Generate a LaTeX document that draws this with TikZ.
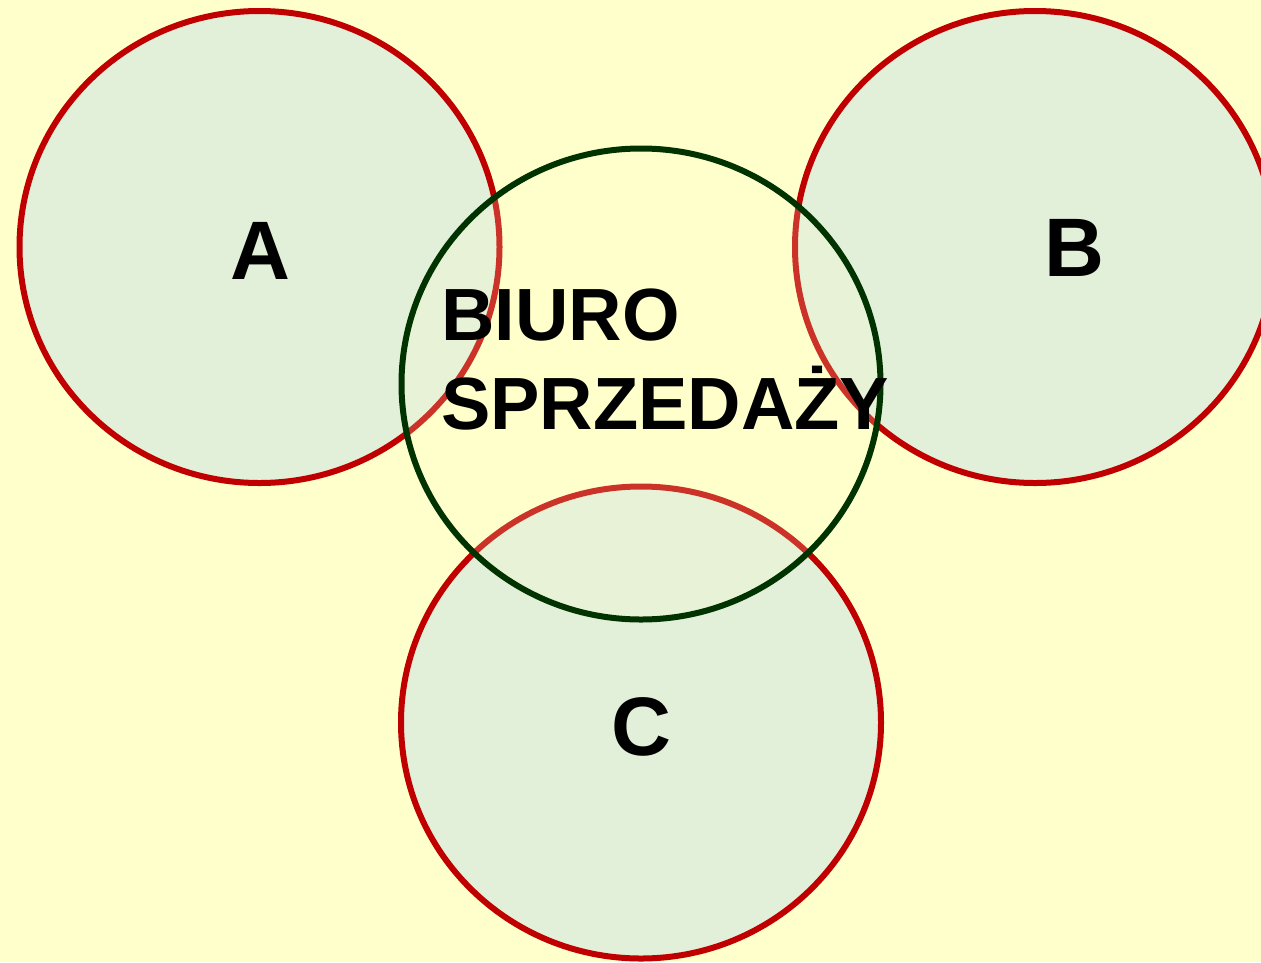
\documentclass[tikz,border=0pt]{standalone}
\usepackage{fontspec}
\setmainfont{Liberation Sans}
\definecolor{bgy}{HTML}{FFFFCC}
\definecolor{lgreen}{HTML}{E2EFD9}
\definecolor{dred}{HTML}{C00000}
\definecolor{dgreen}{HTML}{003300}
\begin{document}
\begin{tikzpicture}[x=1pt,y=-1pt,
  outer/.style={ellipse,draw=dred,fill=lgreen,line width=6pt,minimum width=480pt,minimum height=472pt,inner sep=0pt},
  hub/.style={ellipse,draw=dgreen,fill=bgy,fill opacity=0.2,draw opacity=1,line width=6pt,minimum width=479pt,minimum height=471pt,inner sep=0pt},
  lbl/.style={font=\fontsize{83}{83}\selectfont\bfseries,inner sep=0pt,anchor=base},
  hubtxt/.style={font=\fontsize{74}{88}\selectfont\bfseries,inner sep=0pt,anchor=base west}]
\usetikzlibrary{shapes.geometric}
\fill[bgy] (0,0) rectangle (1261,962);
\useasboundingbox (0,0) rectangle (1261,962);
\node[outer] (a) at (259.5,247) {};
\node[outer] (b) at (1035,247) {};
\node[outer] (c) at (641,722.5) {};
\node[hub] (hub) at (641,384) {};
\node[lbl] (ta) at (260,279) {A};
\node[lbl] (tb) at (1074,276) {B};
\node[lbl] (tc) at (641,755) {C};
\node[hubtxt] (t1) at (441,340) {BIURO};
\node[hubtxt] (t2) at (441,429) {SPRZEDAŻY};
\end{tikzpicture}
\end{document}
